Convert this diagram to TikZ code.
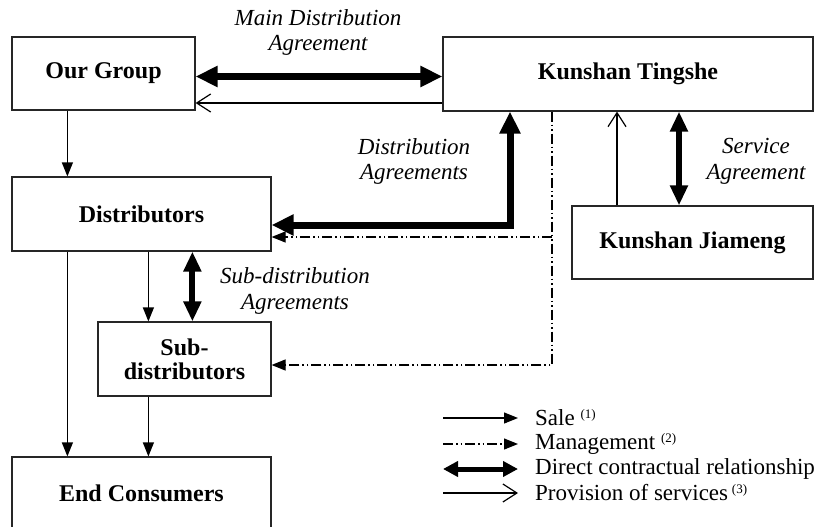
\documentclass[tikz,border=0pt]{standalone}
\usepackage{fontspec}
\setmainfont{Liberation Serif}
\usetikzlibrary{arrows.meta}
\begin{document}
\begin{tikzpicture}[x=1pt,y=-1pt,
  box/.style={draw=black!85, line width=1.2pt, inner sep=0pt, align=center, font=\fontsize{24}{24}\selectfont\bfseries},
  lab/.style={align=center, inner sep=0pt, font=\fontsize{23}{25.5}\selectfont\itshape},
  legtext/.style={anchor=west, inner sep=0pt, font=\fontsize{23}{25}\selectfont},
  sale/.style={line width=1.2pt, -{Triangle[length=14pt,width=11pt]}},
  mgmt/.style={line width=1.2pt, dash pattern=on 10pt off 3pt on 1.5pt off 3pt on 1.5pt off 3pt, -{Triangle[length=14pt,width=11pt]}},
  contract/.style={line width=7pt, {Triangle[length=22pt,width=20pt]}-{Triangle[length=22pt,width=20pt]}},
  contractsm/.style={line width=6pt, {Triangle[length=20pt,width=17pt]}-{Triangle[length=20pt,width=17pt]}},
  svc/.style={line width=1.2pt, -{Straight Barb[length=14pt,width=18pt,line width=1.2pt]}},
]
\useasboundingbox (0,0) rectangle (814,527);

% boxes
\node[box, minimum width=183pt, minimum height=73pt] (og) at (103.5,73.5) {Our Group};
\node[box, minimum width=370pt, minimum height=74pt] (kt) at (628,74) {Kunshan Tingshe};
\node[box, minimum width=241pt, minimum height=73pt] (kj) at (692.5,242.5) {Kunshan Jiameng};
\node[box, minimum width=259pt, minimum height=74pt] (dist) at (141.5,214) {Distributors};
\node[box, minimum width=173pt, minimum height=74pt] (sub) at (184.5,359) {Sub-\\distributors};
\node[box, minimum width=259pt, minimum height=73pt] (ec) at (141.5,493.5) {End Consumers};

% labels
\node[lab] (lmain) at (318,32.5) {Main Distribution\\Agreement};
\node[lab] (ldist) at (414,161.5) {Distribution\\Agreements};
\node[lab] (lserv) at (756,161.5) {Service\\Agreement};
\node[lab] (lsub) at (295,291) {Sub-distribution\\Agreements};

% Our Group - Kunshan Tingshe
\draw[contract] ([yshift=-3pt]og.east) coordinate (m1) -- (m1 -| kt.west);
\draw[svc] ([yshift=-29pt]kt.west) coordinate (p1) -- (p1 -| og.east);

% sales
\draw[sale] ([xshift=56pt]og.south west) coordinate (s1) -- (s1 |- dist.north);
\draw[sale] ([xshift=56pt]dist.south west) coordinate (s2) -- (s2 |- ec.north);
\draw[sale] ([xshift=137pt]dist.south west) coordinate (s3) -- (s3 |- sub.north);
\draw[sale] ([xshift=51pt]sub.south west) coordinate (s4) -- (s4 |- ec.north);

% sub-distribution agreements
\draw[contractsm] ([xshift=181pt]dist.south west) coordinate (c1) -- (c1 |- sub.north);

% distribution agreements
\draw[contract, line join=miter] ([xshift=-118pt]kt.south) |- ([yshift=-11pt]dist.east);

% management
\coordinate (mv) at ([xshift=-76pt]kt.south);
\coordinate (d2) at ([yshift=-23pt]dist.east);
\draw[mgmt] (mv) |- ([yshift=-6pt]sub.east);
\draw[mgmt] (mv |- d2) -- (d2);

% Kunshan Jiameng
\draw[svc] ([xshift=-75.5pt]kj.north) coordinate (j1) -- (j1 |- kt.south);
\draw[contractsm] ([xshift=-13.5pt]kj.north) coordinate (j2) -- (j2 |- kt.south);

% legend
\coordinate (a1) at (443,418); \coordinate (b1) at (518,418);
\coordinate (a2) at (443,444); \coordinate (b2) at (518,444);
\coordinate (a3) at (443,469); \coordinate (b3) at (518,469);
\coordinate (a4) at (443,493); \coordinate (b4) at (518,493);
\draw[sale] (a1) -- (b1);
\draw[mgmt] (a2) -- (b2);
\draw[line width=5pt, {Triangle[length=15pt,width=15pt]}-{Triangle[length=15pt,width=15pt]}] (a3) -- (b3);
\draw[svc] (a4) -- (b4);
\node[legtext] (t1) at (535,418) {Sale \raisebox{7pt}{\fontsize{13}{13}\selectfont(1)}};
\node[legtext] (t2) at (535,444) {Management \raisebox{7pt}{\fontsize{13}{13}\selectfont(2)}};
\node[legtext] (t3) at (535,469) {Direct contractual relationship};
\node[legtext] (t4) at (535,493) {Provision of services\,\raisebox{7pt}{\fontsize{13}{13}\selectfont(3)}};
\end{tikzpicture}
\end{document}
